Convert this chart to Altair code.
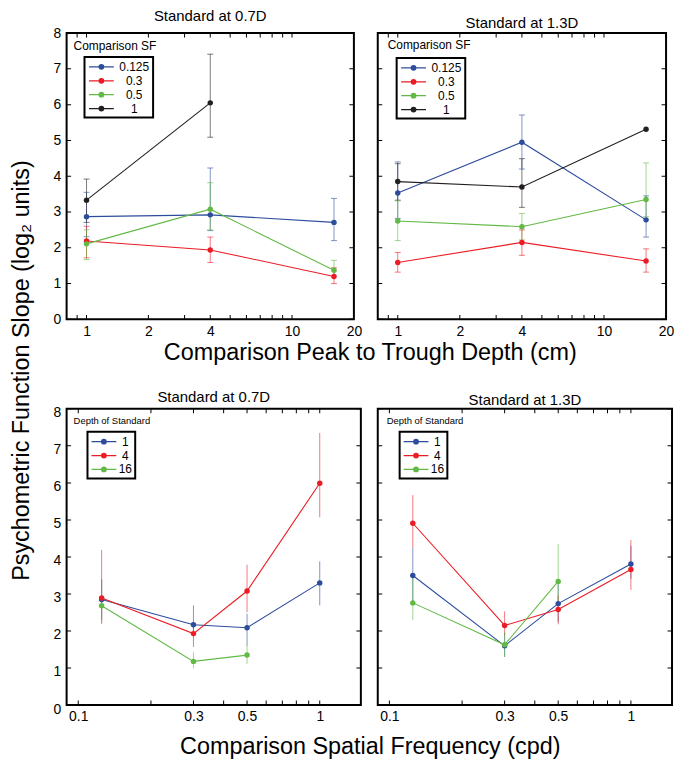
import altair as alt
import pandas as pd

FONT = "Liberation Sans"
BLUE = "#2c4c9c"
RED = "#ec1c24"
GREEN = "#62b946"
BLACK = "#231f20"

# ---------------- data ----------------
# Top row: x = comparison peak-to-trough depth (cm), series = comparison SF
depths = [1, 4, 16]
sf_names = ["0.125", "0.3", "0.5", "1"]
sf_colors = [BLUE, RED, GREEN, BLACK]

tl_blue = [2.87, 2.92, 2.71]
tl_blue_lo = [2.31, 2.48, 2.20]
tl_blue_hi = [3.55, 4.23, 3.38]
tl_red = [2.19, 1.94, 1.20]
tl_red_lo = [1.72, 1.59, 1.00]
tl_red_hi = [2.60, 2.30, 1.44]
tl_green = [2.11, 3.08, 1.37]
tl_green_lo = [1.67, 2.50, 1.20]
tl_green_hi = [2.50, 3.82, 1.65]
tl_black = [3.33, 6.05]
tl_black_lo = [2.71, 5.09]
tl_black_hi = [3.92, 7.41]

tr_blue = [3.53, 4.95, 2.78]
tr_blue_lo = [2.82, 4.20, 2.30]
tr_blue_hi = [4.40, 5.71, 3.45]
tr_red = [1.59, 2.15, 1.63]
tr_red_lo = [1.32, 1.79, 1.32]
tr_red_hi = [1.87, 2.50, 1.97]
tr_green = [2.75, 2.59, 3.35]
tr_green_lo = [2.20, 2.22, 2.87]
tr_green_hi = [3.31, 2.96, 4.37]
tr_black = [3.85, 3.70, 5.31]
tr_black_lo = [3.33, 3.13, None]
tr_black_hi = [4.35, 4.49, None]

# Bottom row: x = comparison spatial frequency (cpd), series = depth of standard
sfs = [0.125, 0.3, 0.5, 1]
depth_names = ["1", "4", "16"]
depth_colors = [BLUE, RED, GREEN]

bl_blue = [2.85, 2.17, 2.09, 3.30]
bl_blue_lo = [2.30, 1.85, 1.61, 2.69]
bl_blue_hi = [3.40, 2.69, 2.47, 3.88]
bl_red = [2.89, 1.93, 3.08, 5.99]
bl_red_lo = [2.20, 1.57, 2.51, 5.07]
bl_red_hi = [4.19, 2.24, 3.79, 7.35]
bl_green = [2.68, 1.18, 1.35]
bl_green_lo = [2.20, 0.99, 1.11]
bl_green_hi = [3.38, 1.43, 1.63]

br_blue = [3.50, 1.60, 2.74, 3.81]
br_blue_lo = [2.78, 1.30, 2.24, 3.41]
br_blue_hi = [4.26, 1.95, 3.32, 4.30]
br_red = [4.91, 2.15, 2.58, 3.66]
br_red_lo = [4.26, 1.88, 2.18, 3.11]
br_red_hi = [5.67, 2.53, 2.96, 4.46]
br_green = [2.76, 1.63, 3.34]
br_green_lo = [2.30, 1.30, 2.80]
br_green_hi = [3.50, 1.97, 4.35]

# axis ticks / labels
top_x_labels = [1, 2, 4, 10, 20]
top_x_ticks = [0.9, 1, 2, 3, 4, 5, 6, 7, 8, 9, 10, 20]
bot_x_labels = [0.1, 0.3, 0.5, 1]
bot_x_ticks = [0.1, 0.2, 0.3, 0.4, 0.5, 0.6, 0.7, 0.8, 0.9, 1]
y_ticks = [0, 1, 2, 3, 4, 5, 6, 7, 8]

titles = ["Standard at 0.7D", "Standard at 1.3D"]
top_note = "Comparison SF"
bot_note = "Depth of Standard"
top_xtitle = "Comparison Peak to Trough Depth (cm)"
bot_xtitle = "Comparison Spatial Frequency (cpd)"
ytitle = "Psychometric Function Slope (log\u2082 units)"


def make_df(xs, names, series):
    rows = []
    for name, (ys, lo, hi) in zip(names, series):
        for i, y in enumerate(ys):
            rows.append({"x": xs[i], "s": name, "y": y, "lo": lo[i], "hi": hi[i]})
    return pd.DataFrame(rows)


df_tl = make_df(depths, sf_names, [(tl_blue, tl_blue_lo, tl_blue_hi), (tl_red, tl_red_lo, tl_red_hi),
                                   (tl_green, tl_green_lo, tl_green_hi), (tl_black, tl_black_lo, tl_black_hi)])
df_tr = make_df(depths, sf_names, [(tr_blue, tr_blue_lo, tr_blue_hi), (tr_red, tr_red_lo, tr_red_hi),
                                   (tr_green, tr_green_lo, tr_green_hi), (tr_black, tr_black_lo, tr_black_hi)])
df_bl = make_df(sfs, depth_names, [(bl_blue, bl_blue_lo, bl_blue_hi), (bl_red, bl_red_lo, bl_red_hi),
                                   (bl_green, bl_green_lo, bl_green_hi)])
df_br = make_df(sfs, depth_names, [(br_blue, br_blue_lo, br_blue_hi), (br_red, br_red_lo, br_red_hi),
                                   (br_green, br_green_lo, br_green_hi)])

# legend glyph: a line with a dot in the middle (MATLAB style)
LEG_PATH = "M-2,0H2M0.36,0A0.36,0.36,0,1,1,-0.36,0A0.36,0.36,0,1,1,0.36,0Z"


def panel(df, xdomain, xlabels, xticks, names, colors, title, title_off, width, height,
          leg_x, leg_y, lab_off, sym_off, note, note_x, note_y, note_size, caps,
          show_ylabels, xtitle=None, xtitle_xy=None, ytitle_xy=None, ylab_off=0):
    xscale = alt.Scale(type="log", domain=xdomain, nice=False)
    yscale = alt.Scale(domain=[0, 8], nice=False, zero=False)
    xa = dict(values=xlabels, format="~g", ticks=False, domain=False, grid=False,
              labelFlush=False, labelOverlap=False, labelFont=FONT, labelFontSize=14,
              labelColor="black", labelPadding=5)
    if xtitle:
        xa.update(title=xtitle, titleFont=FONT, titleFontSize=23.5, titleFontWeight="normal",
                  titleColor="black", titleX=xtitle_xy[0], titleY=xtitle_xy[1],
                  titleBaseline="middle", titleAlign="center")
    else:
        xa.update(title=None)
    xaxis = alt.Axis(**xa)
    if show_ylabels:
        ya = dict(values=y_ticks, ticks=False, domain=False, grid=False, labelFont=FONT,
                  labelFontSize=14, labelColor="black", labelPadding=6, labelOffset=ylab_off)
        if ytitle_xy:
            ya.update(title=ytitle, titleFont=FONT, titleFontSize=23.5, titleFontWeight="normal",
                      titleColor="black", titleX=ytitle_xy[0], titleY=ytitle_xy[1],
                      titleAngle=270, titleBaseline="middle", titleAlign="center")
        else:
            ya.update(title=None)
        yaxis = alt.Axis(**ya)
    else:
        yaxis = None

    X = lambda f: alt.X(f, type="quantitative", scale=xscale, axis=xaxis)
    Y = lambda f: alt.Y(f, type="quantitative", scale=yscale, axis=yaxis)

    leg = alt.Legend(title=None, orient="none", legendX=leg_x, legendY=leg_y,
                     strokeColor="black", fillColor="white", padding=3, symbolOffset=sym_off,
                     symbolType=LEG_PATH, symbolSize=156, symbolStrokeWidth=1.3, symbolOpacity=1,
                     labelFont=FONT, labelFontSize=12, labelColor="black",
                     labelAlign="center", labelOffset=lab_off, rowPadding=1)
    cscale = alt.Scale(domain=names, range=colors)
    C = alt.Color("s:N", scale=cscale, legend=leg)

    base = alt.Chart(df)
    layers = [base.mark_rule(strokeWidth=1, opacity=0.6).encode(
        x=X("x"), y=Y("lo"), y2="hi:Q", color=C)]
    if caps:
        for f in ["lo", "hi"]:
            layers.append(base.mark_tick(orient="horizontal", size=6, thickness=1, opacity=0.6).encode(
                x=X("x"), y=Y(f), color=C))
    layers.append(base.mark_line(strokeWidth=1.1).encode(x=X("x"), y=Y("y"), color=C))
    layers.append(base.mark_circle(size=30, opacity=1).encode(x=X("x"), y=Y("y"), color=C))

    xt = alt.Chart(pd.DataFrame({"v": xticks}))
    yt = alt.Chart(pd.DataFrame({"v": y_ticks}))
    tk = dict(color="black", thickness=1, size=9, clip=True, opacity=1)
    layers.append(xt.mark_tick(orient="vertical", **tk).encode(
        x=X("v"), y=alt.YDatum(0, type="quantitative", scale=yscale, axis=yaxis)))
    layers.append(xt.mark_tick(orient="vertical", **tk).encode(
        x=X("v"), y=alt.YDatum(8, type="quantitative", scale=yscale, axis=yaxis)))
    layers.append(yt.mark_tick(orient="horizontal", **tk).encode(
        y=Y("v"), x=alt.XDatum(xdomain[0], type="quantitative", scale=xscale, axis=xaxis)))
    layers.append(yt.mark_tick(orient="horizontal", **tk).encode(
        y=Y("v"), x=alt.XDatum(xdomain[1], type="quantitative", scale=xscale, axis=xaxis)))

    layers.append(alt.Chart(alt.Data(values=[{"t": note}])).mark_text(
        align="left", baseline="middle", font=FONT, fontSize=note_size, color="black").encode(
        x=alt.value(note_x), y=alt.value(note_y), text="t:N"))

    return alt.layer(*layers).properties(
        width=width, height=height,
        title=alt.TitleParams(title, font=FONT, fontSize=15, fontWeight="normal",
                              color="black", offset=title_off, anchor="middle"))


tl = panel(df_tl, [0.8, 20], top_x_labels, top_x_ticks, sf_names, sf_colors, titles[0], 2, 289, 288,
           18, 24, 26, 7, top_note, 7, 13, 12, True, True,
           xtitle=top_xtitle, xtitle_xy=(305, 33), ytitle_xy=(-45, 339))
tr = panel(df_tr, [0.8, 20], top_x_labels, top_x_ticks, sf_names, sf_colors, titles[1], 2, 290, 288,
           19, 25, 26, 7, top_note, 10, 12, 12, True, False)
bl = panel(df_bl, [0.0895, 1.48], bot_x_labels, bot_x_ticks, depth_names, depth_colors, titles[0], 1, 296, 298,
           21, 23, 14.5, 6.5, bot_note, 7, 12, 9.5, False, True,
           xtitle=bot_xtitle, xtitle_xy=(305, 42), ylab_off=4)
br = panel(df_br, [0.0895, 1.48], bot_x_labels, bot_x_ticks, depth_names, depth_colors, titles[1], 1, 296, 298,
           22, 23, 14.5, 6.5, bot_note, 9, 12, 9.5, False, False)

ind = dict(color="independent")
chart = alt.concat(tl, tr, bl, br, columns=2, spacing={"row": 90, "column": 17},
                   bounds="flush").resolve_scale(**ind).resolve_legend(**ind).properties(
    padding={"left": 8, "top": 6, "right": 0, "bottom": 0},
    background="white",
).configure_view(stroke="black", strokeWidth=2).configure_legend(strokeWidth=2)

chart.save("out.html", embed_options={"renderer": "svg", "actions": False})
